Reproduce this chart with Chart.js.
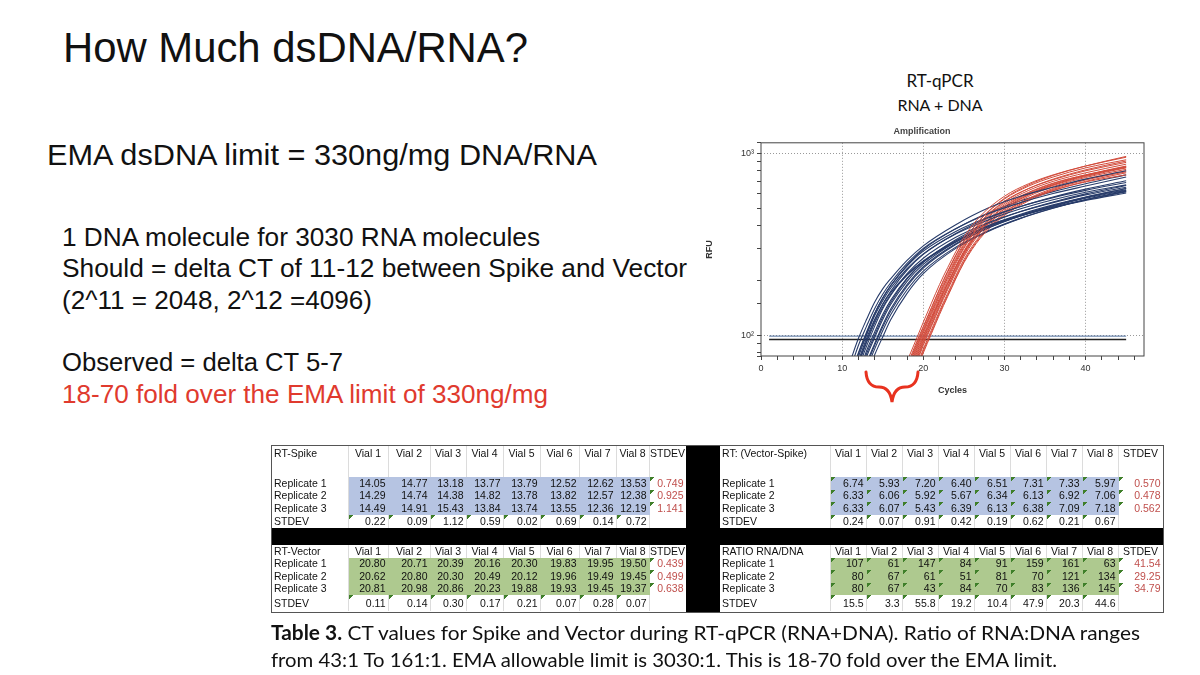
<!DOCTYPE html>
<html>
<head>
<meta charset="utf-8">
<script src="https://cdn.jsdelivr.net/npm/chart.js@4.4.1/dist/chart.umd.min.js"></script>
<style>
  body { margin: 0; width: 1200px; height: 675px; background: #fff; position: relative; overflow: hidden;
         font-family: "Liberation Sans", Arial, sans-serif; color: #111; }
  .t { position: absolute; white-space: nowrap; line-height: 1; transform-origin: 0 0; }
  .cal { font-family: Lato, "Open Sans", sans-serif; }
  #chartBox { position: absolute; left: 700px; top: 122px; width: 460px; height: 278px; }
  .tbl { position: absolute; border-collapse: collapse; table-layout: fixed; font-size: 10.5px; }
  .tbl td { padding: 0 2px; white-space: nowrap; overflow: hidden; border-right: 1px solid #dcdcdc;
            line-height: 11px; text-align: right; vertical-align: middle; box-sizing: border-box; }
  .tbl td.lab { text-align: left; }
  .tbl td.hd { text-align: center; padding: 0; overflow: visible; }
  .tbl tr.top td { vertical-align: top; padding-top: 2px; }
  .tbl td.sd { color: #c0504d; }
  .tbl td.blue { background-color: #b6c4e2; border-right-color: #b6c4e2; }
  .tbl td.green { background-color: #aec98f; border-right-color: #aec98f; }
  .tbl td.mk { background-image: linear-gradient(135deg, #3f7f2a 0, #3f7f2a 3px, transparent 3px); background-repeat: no-repeat; }
  .band { position: absolute; background: #000; }
</style>
</head>
<body>

<div class="t" data-w="465" style="left:63px; top:27px; font-size:42px;">How Much dsDNA/RNA?</div>
<div class="t" data-w="550" style="left:47px; top:140px; font-size:30px;">EMA dsDNA limit = 330ng/mg DNA/RNA</div>
<div class="t" data-w="478" style="left:62px; top:224px; font-size:26px;">1 DNA molecule for 3030 RNA molecules</div>
<div class="t" data-w="625" style="left:62px; top:255px; font-size:26px;">Should = delta CT of 11-12 between Spike and Vector</div>
<div class="t" data-w="310" style="left:62px; top:287px; font-size:26px;">(2^11 = 2048, 2^12 =4096)</div>
<div class="t" data-w="281" style="left:62px; top:349px; font-size:26px;">Observed = delta CT 5-7</div>
<div class="t" data-w="486" style="left:62px; top:381px; font-size:26px; color:#e03a2e;">18-70 fold over the EMA limit of 330ng/mg</div>

<div class="t cal" style="left:940px; top:72px; font-size:17px; transform:translateX(-50%);">RT-qPCR</div>
<div class="t cal" style="left:940px; top:97px; font-size:16px; transform:translateX(-50%);">RNA + DNA</div>

<div id="chartBox"><canvas id="amp"></canvas></div>

<svg style="position:absolute; left:0; top:0;" width="1200" height="675">
  <path d="M866,372 Q867,387 879,387 Q890,387 892,402 Q894,387 905,387 Q917,387 918,372"
        fill="none" stroke="#e8321f" stroke-width="3" stroke-linecap="round"/>
</svg>

<div id="tables"></div>

<div class="t cal" data-w="869" style="left:271px; top:622px; font-size:20px;"><b>Table 3.</b> CT values for Spike and Vector during RT-qPCR (RNA+DNA). Ratio of RNA:DNA ranges</div>
<div class="t cal" data-w="786" style="left:271px; top:649px; font-size:20px;">from 43:1 To 161:1. EMA allowable limit is 3030:1. This is 18-70 fold over the EMA limit.</div>

<script>
// amplification curves (RFU at given cycles)
const spikeCycles = [11, 12, 13, 14, 15, 16, 18, 20, 24, 28, 32, 36, 40, 45];
const spikeCurves = [
  [72, 96, 122, 152, 180, 205, 258, 310, 405, 500, 580, 650, 720, 800],
  [65, 88, 112, 140, 168, 195, 248, 300, 385, 465, 535, 600, 660, 740],
  [58, 80, 104, 132, 160, 188, 240, 290, 372, 445, 510, 570, 625, 690],
  [55, 76, 100, 128, 155, 182, 232, 280, 360, 430, 495, 555, 610, 670],
  [50, 70, 93, 120, 148, 175, 228, 278, 362, 440, 510, 575, 635, 705],
  [48, 66, 87, 112, 140, 166, 218, 265, 345, 415, 478, 535, 590, 650],
  [44, 60, 82, 104, 130, 156, 206, 252, 330, 400, 462, 520, 575, 640],
  [40, 56, 76, 97, 122, 148, 198, 245, 325, 395, 458, 515, 570, 630],
  [38, 52, 70, 90, 114, 140, 190, 238, 318, 388, 452, 510, 565, 625],
  [35, 48, 65, 84, 106, 130, 178, 225, 305, 375, 440, 500, 555, 615],
  [32, 44, 60, 78, 98, 122, 170, 218, 300, 372, 438, 498, 555, 620],
  [52, 72, 96, 122, 148, 172, 215, 255, 325, 400, 455, 505, 550, 605],
  [56, 79, 102, 131, 160, 188, 243, 296, 385, 470, 548, 615, 680, 760],
  [42, 58, 79, 100, 126, 152, 204, 252, 335, 410, 478, 540, 598, 665],
  [37, 50, 68, 88, 111, 136, 186, 234, 315, 388, 455, 515, 572, 640],
  [50, 69, 91, 117, 143, 168, 214, 256, 330, 395, 452, 505, 555, 615]
];
const vectorCycles = [18, 19, 20, 21, 22, 23, 25, 27, 30, 33, 36, 40, 45];
const vectorCurves = [
  [72, 92, 118, 150, 190, 235, 345, 450, 580, 680, 760, 850, 950],
  [68, 88, 112, 142, 180, 225, 330, 430, 560, 660, 740, 830, 920],
  [64, 84, 107, 136, 172, 215, 318, 418, 545, 640, 715, 800, 890],
  [60, 80, 103, 130, 165, 206, 305, 405, 530, 625, 700, 780, 870],
  [58, 78, 100, 126, 160, 200, 300, 400, 520, 610, 685, 760, 840],
  [55, 74, 96, 122, 155, 193, 290, 388, 510, 605, 680, 760, 850],
  [52, 70, 92, 117, 148, 185, 280, 375, 495, 590, 665, 745, 830],
  [50, 67, 88, 112, 142, 178, 270, 365, 485, 580, 655, 735, 815],
  [48, 64, 84, 107, 136, 170, 260, 352, 470, 565, 640, 720, 800],
  [46, 61, 80, 102, 130, 163, 250, 340, 455, 548, 622, 700, 780],
  [57, 76, 98, 124, 156, 194, 285, 372, 478, 560, 625, 695, 760],
  [66, 86, 110, 140, 178, 222, 328, 432, 565, 670, 755, 850, 960],
  [62, 82, 105, 133, 168, 210, 312, 412, 540, 640, 720, 810, 905],
  [54, 72, 94, 120, 152, 190, 286, 382, 505, 598, 672, 752, 835],
  [51, 68, 90, 114, 145, 182, 276, 372, 495, 592, 670, 755, 845],
  [47, 62, 82, 104, 133, 166, 254, 346, 462, 556, 632, 712, 790]
];
const thresholdCycles = [1, 45];
const thresholdUpper = [99, 99];
const thresholdLower = [95, 95];
const yTickLabels = { 100: '10²', 1000: '10³' };

// table values
const vialLabels = ['Vial 1', 'Vial 2', 'Vial 3', 'Vial 4', 'Vial 5', 'Vial 6', 'Vial 7', 'Vial 8'];
const replicateLabels = ['Replicate 1', 'Replicate 2', 'Replicate 3'];
const spikeCt = [
  ['14.05', '14.77', '13.18', '13.77', '13.79', '12.52', '12.62', '13.53'],
  ['14.29', '14.74', '14.38', '14.82', '13.78', '13.82', '12.57', '12.38'],
  ['14.49', '14.91', '15.43', '13.84', '13.74', '13.55', '12.36', '12.19']
];
const spikeRowSd = ['0.749', '0.925', '1.141'];
const spikeColSd = ['0.22', '0.09', '1.12', '0.59', '0.02', '0.69', '0.14', '0.72'];
const vectorCt = [
  ['20.80', '20.71', '20.39', '20.16', '20.30', '19.83', '19.95', '19.50'],
  ['20.62', '20.80', '20.30', '20.49', '20.12', '19.96', '19.49', '19.45'],
  ['20.81', '20.98', '20.86', '20.23', '19.88', '19.93', '19.45', '19.37']
];
const vectorRowSd = ['0.439', '0.499', '0.638'];
const vectorColSd = ['0.11', '0.14', '0.30', '0.17', '0.21', '0.07', '0.28', '0.07'];
const deltaCt = [
  ['6.74', '5.93', '7.20', '6.40', '6.51', '7.31', '7.33', '5.97'],
  ['6.33', '6.06', '5.92', '5.67', '6.34', '6.13', '6.92', '7.06'],
  ['6.33', '6.07', '5.43', '6.39', '6.13', '6.38', '7.09', '7.18']
];
const deltaRowSd = ['0.570', '0.478', '0.562'];
const deltaColSd = ['0.24', '0.07', '0.91', '0.42', '0.19', '0.62', '0.21', '0.67'];
const ratioRnaDna = [
  ['107', '61', '147', '84', '91', '159', '161', '63'],
  ['80', '67', '61', '51', '81', '70', '121', '134'],
  ['80', '67', '43', '84', '70', '83', '136', '145']
];
const ratioRowSd = ['41.54', '29.25', '34.79'];
const ratioColSd = ['15.5', '3.3', '55.8', '19.2', '10.4', '47.9', '20.3', '44.6'];

// fit slide text lines to their width in the picture
document.querySelectorAll('.t[data-w]').forEach(el => {
  const w = el.getBoundingClientRect().width;
  el.style.transform = 'scaleX(' + (+el.dataset.w / w) + ')';
});

function makeTable(left, top, colW, rowH, title, vals, rowSd, colSd, fill, markAll) {
  const t = document.createElement('table');
  t.className = 'tbl';
  t.style.left = left + 'px';
  t.style.top = top + 'px';
  t.style.width = colW.reduce((a, b) => a + b, 0) + 'px';
  const cg = document.createElement('colgroup');
  colW.forEach(w => { const c = document.createElement('col'); c.style.width = w + 'px'; cg.appendChild(c); });
  t.appendChild(cg);
  function row(h, cls) {
    const r = t.insertRow();
    r.style.height = h + 'px';
    if (cls) r.className = cls;
    return r;
  }
  function cell(r, txt, cls) {
    const c = r.insertCell();
    c.textContent = txt;
    c.className = cls || '';
    return c;
  }
  const hr = row(rowH[0], rowH[0] > 20 ? 'top' : '');
  cell(hr, title, 'lab');
  vialLabels.forEach(v => cell(hr, v, 'hd'));
  cell(hr, 'STDEV', 'hd');
  vals.forEach((rv, i) => {
    const r = row(rowH[i + 1]);
    cell(r, replicateLabels[i], 'lab');
    rv.forEach(v => cell(r, v, fill + (markAll ? ' mk' : '')));
    cell(r, rowSd[i], 'sd mk');
  });
  const sr = row(rowH[4]);
  cell(sr, 'STDEV', 'lab');
  colSd.forEach(v => cell(sr, v, 'mk'));
  cell(sr, '', '');
  document.getElementById('tables').appendChild(t);
}

const leftCols = [76, 40, 42, 36, 37, 37, 39, 37, 33, 37];
const rightCols = [110, 36, 36, 36, 36, 36, 36, 36, 36, 45];
const topRows = [31, 12.5, 12.5, 12.5, 13.5];
const botRows = [12.5, 12.5, 12.5, 12.5, 16];
makeTable(272, 446, leftCols, topRows, 'RT-Spike', spikeCt, spikeRowSd, spikeColSd, 'blue', false);
makeTable(272, 545, leftCols, botRows, 'RT-Vector', vectorCt, vectorRowSd, vectorColSd, 'green', false);
makeTable(720, 446, rightCols, topRows, 'RT: (Vector-Spike)', deltaCt, deltaRowSd, deltaColSd, 'blue', true);
makeTable(720, 545, rightCols, botRows, 'RATIO RNA/DNA', ratioRnaDna, ratioRowSd, ratioColSd, 'green', true);

[[271, 528, 892, 17], [686, 446, 34, 166]].forEach(b => {
  const d = document.createElement('div');
  d.className = 'band';
  d.style.cssText = 'left:' + b[0] + 'px;top:' + b[1] + 'px;width:' + b[2] + 'px;height:' + b[3] + 'px;';
  document.body.appendChild(d);
});
const frame = document.createElement('div');
frame.style.cssText = 'position:absolute;left:271px;top:445px;width:891px;height:166px;border:1px solid #555;';
document.body.appendChild(frame);

// chart
const datasets = [];
const nCurves = Math.max(spikeCurves.length, vectorCurves.length);
for (let i = 0; i < nCurves; i++) {
  if (vectorCurves[i]) datasets.push({
    data: vectorCurves[i].map((v, j) => ({ x: vectorCycles[j], y: v })),
    borderColor: '#d24c3c', borderWidth: 1, pointRadius: 0, cubicInterpolationMode: 'monotone'
  });
  if (spikeCurves[i]) datasets.push({
    data: spikeCurves[i].map((v, j) => ({ x: spikeCycles[j], y: v })),
    borderColor: '#283c6a', borderWidth: 1.1, pointRadius: 0, cubicInterpolationMode: 'monotone'
  });
}
datasets.push({
  data: thresholdUpper.map((v, j) => ({ x: thresholdCycles[j], y: v })),
  borderColor: '#4a6a9a', borderWidth: 1, pointRadius: 0
});
datasets.push({
  data: thresholdLower.map((v, j) => ({ x: thresholdCycles[j], y: v })),
  borderColor: '#222', borderWidth: 1.5, pointRadius: 0
});

const framePlugin = {
  id: 'frame',
  afterDraw(chart) {
    const a = chart.chartArea, ctx = chart.ctx;
    ctx.save();
    ctx.strokeStyle = '#444';
    ctx.lineWidth = 1;
    ctx.strokeRect(a.left, a.top, a.right - a.left, a.bottom - a.top);
    ctx.restore();
  }
};

new Chart(document.getElementById('amp'), {
  type: 'line',
  data: { datasets: datasets },
  plugins: [framePlugin],
  options: {
    responsive: true,
    maintainAspectRatio: false,
    animation: false,
    layout: { padding: { right: 16 } },
    plugins: {
      legend: { display: false },
      tooltip: { enabled: false },
      title: {
        display: true, text: 'Amplification', color: '#444',
        font: { family: 'Liberation Sans', size: 9, weight: 'bold' },
        padding: { top: 4, bottom: 6 }
      }
    },
    scales: {
      x: {
        type: 'linear', min: 0, max: 47.2,
        afterFit: s => { s.height = 44; },
        ticks: {
          stepSize: 2, autoSkip: false, includeBounds: false, maxRotation: 0,
          color: '#333', font: { family: 'Liberation Sans', size: 9 }, padding: 3,
          callback: v => (v % 10 === 0 ? String(v) : '')
        },
        grid: {
          color: c => (c.tick && c.tick.value % 10 === 0 && c.tick.value > 0 ? '#999' : 'transparent'),
          tickColor: '#444', tickLength: 4
        },
        border: { display: false, dash: [1, 2] },
        title: { display: true, text: 'Cycles', color: '#333', font: { family: 'Liberation Sans', size: 9, weight: 'bold' }, padding: { top: 4 } }
      },
      y: {
        type: 'logarithmic', min: 77, max: 1140,
        afterFit: s => { s.width = 61; },
        ticks: {
          autoSkip: false, color: '#333', font: { family: 'Liberation Sans', size: 9 },
          callback: v => yTickLabels[v] || ''
        },
        grid: {
          color: c => (c.tick && yTickLabels[c.tick.value] ? '#999' : 'transparent'),
          tickColor: '#444', tickLength: 4
        },
        border: { display: false, dash: [1, 2] },
        title: { display: true, text: 'RFU', color: '#333', font: { family: 'Liberation Sans', size: 9, weight: 'bold' } }
      }
    }
  }
});
</script>
</body>
</html>
